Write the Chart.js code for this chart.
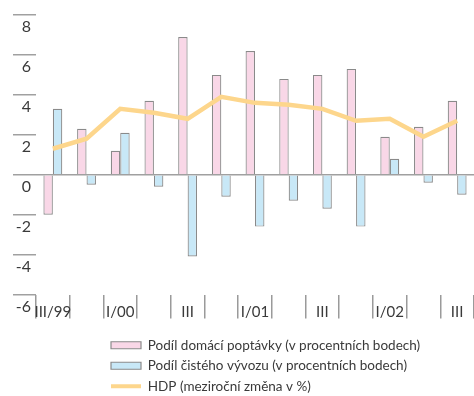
<!DOCTYPE html>
<html>
<head>
<meta charset="utf-8">
<script src="https://cdn.jsdelivr.net/npm/chart.js@4.4.1/dist/chart.umd.min.js"></script>
<style>
  html, body { margin: 0; padding: 0; background: #fff; }
  #wrap { width: 474px; height: 396px; position: relative; }
</style>
</head>
<body>
<div id="wrap"><canvas id="c"></canvas></div>
<script>
// Quarters, III/99 – III/02 (only every other quarter is labelled)
const quarters = ['III/99', '', 'I/00', '', 'III', '', 'I/01', '', 'III', '', 'I/02', '', 'III'];

// Contribution of domestic demand (percentage points)
const domesticDemand = [-2.0, 2.3, 1.2, 3.7, 6.9, 5.0, 6.2, 4.8, 5.0, 5.3, 1.9, 2.4, 3.7];

// Contribution of net exports (percentage points)
const netExports = [3.3, -0.5, 2.1, -0.6, -4.1, -1.1, -2.6, -1.3, -1.7, -2.6, 0.8, -0.4, -1.0];

// GDP, year-on-year change (%)
const gdp = [1.3, 1.8, 3.3, 3.1, 2.8, 3.9, 3.6, 3.5, 3.3, 2.7, 2.8, 1.9, 2.7];

// Value axis ticks
const yMin = -6, yMax = 8, yStep = 2;

const textColor = '#3a3a3a';
const edgeGray = '#8a8a8a';

// Moves the legend block to the left edge of its column under the plot
const legendShift = {
  id: 'legendShift',
  afterLayout(chart) {
    const lg = chart.legend;
    if (!lg) return;
    const dx = 104, dy = 7;
    lg.left += dx; lg.right += dx;
    lg.top += dy; lg.bottom += dy;
  }
};

new Chart(document.getElementById('c'), {
  type: 'bar',
  data: {
    labels: quarters,
    datasets: [
      {
        label: 'Podíl domácí poptávky (v procentních bodech)',
        data: domesticDemand,
        backgroundColor: '#f9d7e7',
        borderColor: edgeGray,
        borderWidth: 1.2,
        order: 1
      },
      {
        label: 'Podíl čistého vývozu (v procentních bodech)',
        data: netExports,
        backgroundColor: '#c8e8f7',
        borderColor: edgeGray,
        borderWidth: 1.2,
        order: 1
      },
      {
        type: 'line',
        label: 'HDP (meziroční změna v %)',
        data: gdp,
        borderColor: '#fdd68c',
        backgroundColor: '#fdd68c',
        borderWidth: 4.5,
        pointRadius: 0,
        tension: 0,
        order: 0
      }
    ]
  },
  options: {
    responsive: true,
    maintainAspectRatio: false,
    animation: false,
    layout: { padding: { top: 15, left: 0, right: 0, bottom: 0 } },
    datasets: {
      bar: { categoryPercentage: 0.56, barPercentage: 1.0 }
    },
    scales: {
      x: {
        type: 'category',
        offset: true,
        grid: {
          offset: true,
          drawOnChartArea: false,
          tickLength: 24,
          tickColor: '#9a9a9a',
          lineWidth: 1.5
        },
        border: { display: false },
        ticks: {
          color: textColor,
          font: { family: 'Lato', size: 15 },
          padding: -15,
          maxRotation: 0,
          autoSkip: false
        },
        afterFit(scale) { scale.height = 30; }
      },
      y: {
        min: yMin,
        max: yMax,
        grid: {
          drawOnChartArea: true,
          color: ctx => (ctx.tick && ctx.tick.value === 0) ? '#a0a0a0' : 'rgba(0,0,0,0)',
          tickColor: '#a0a0a0',
          tickLength: 23,
          lineWidth: 1.5
        },
        border: { display: false },
        ticks: {
          stepSize: yStep,
          color: textColor,
          font: { family: 'Lato', size: 16 },
          padding: -18,
          labelOffset: 12
        },
        afterFit(scale) { scale.width = 36; }
      }
    },
    plugins: {
      tooltip: { enabled: false },
      legend: {
        position: 'bottom',
        align: 'start',
        labels: {
          color: textColor,
          font: { family: 'Lato', size: 13.5 },
          usePointStyle: true,
          pointStyleWidth: 30,
          boxHeight: 7,
          padding: 7,
          sort: (a, b) => a.datasetIndex - b.datasetIndex,
          generateLabels(chart) {
            const items = Chart.defaults.plugins.legend.labels.generateLabels(chart);
            return items.map(it => {
              const ds = chart.data.datasets[it.datasetIndex];
              if (ds.type === 'line') {
                it.pointStyle = 'line';
                it.strokeStyle = ds.borderColor;
                it.lineWidth = 4;
              } else {
                it.pointStyle = 'rect';
                it.lineWidth = 1.2;
              }
              return it;
            });
          }
        }
      }
    }
  },
  plugins: [legendShift]
});
</script>
</body>
</html>
